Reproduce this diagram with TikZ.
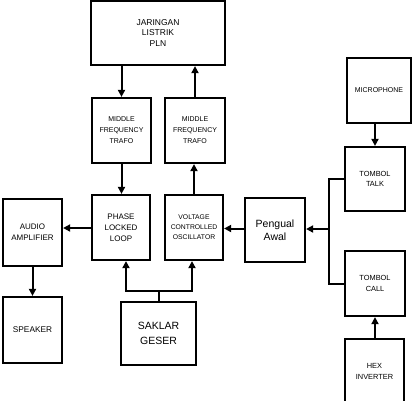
\documentclass[tikz,border=0pt]{standalone}
\usepackage{fontspec}
\setmainfont{Liberation Sans}
\usetikzlibrary{arrows.meta}
\begin{document}
\begin{tikzpicture}[x=1pt,y=-1pt,
  blk/.style={draw, line width=2.2pt, inner sep=0pt, align=center},
  conn/.style={line width=2pt},
  arr/.style={line width=2pt, -{Triangle[length=7pt,width=7pt]}},
  fs/.style 2 args={font=\fontsize{#1}{#2}\selectfont}
]
\clip (0,0) rectangle (412,400);
\fill[white] (0,0) rectangle (412,400);
\node[blk, minimum width=134, minimum height=64, fs={8.5}{10.5}] (jar) at (158,33) {JARINGAN\\LISTRIK\\PLN};
\node[blk, minimum width=59, minimum height=65, fs={7}{11}] (mfl) at (121.5,130.5) {MIDDLE\\FREQUENCY\\TRAFO};
\node[blk, minimum width=60, minimum height=65, fs={7}{11}] (mfr) at (195,130.5) {MIDDLE\\FREQUENCY\\TRAFO};
\node[blk, minimum width=58, minimum height=65, fs={8}{11}] (pll) at (121,227.5) {PHASE\\LOCKED\\LOOP};
\node[blk, minimum width=58, minimum height=65, fs={6.8}{10}] (vco) at (194,227.5) {VOLTAGE\\CONTROLLED\\OSCILLATOR};
\node[blk, minimum width=60, minimum height=64, fs={10.5}{13}] (pen) at (275,230) {Pengual\\Awal};
\node[blk, minimum width=59, minimum height=67, fs={8}{11}] (aud) at (32.5,232.5) {AUDIO\\AMPLIFIER};
\node[blk, minimum width=59, minimum height=66, fs={8.3}{10}] (spk) at (32.5,330) {SPEAKER};
\node[blk, minimum width=75, minimum height=63, fs={10.5}{15}] (sak) at (158.5,333.5) {SAKLAR\\GESER};
\node[blk, minimum width=64, minimum height=65, fs={7}{10}] (mic) at (379,90.5) {MICROPHONE};
\node[blk, minimum width=60, minimum height=64, fs={7.4}{10.5}] (talk) at (375,179) {TOMBOL\\TALK};
\node[blk, minimum width=60, minimum height=65, fs={7.4}{10.5}] (call) at (375,283.5) {TOMBOL\\CALL};
\node[blk, minimum width=59, minimum height=65, fs={7.4}{10.5}] (hex) at (374.5,371.5) {HEX\\INVERTER};
\coordinate (bus) at (329,0);
% vertical chain
\draw[arr] (jar.south -| mfl.north) -- (mfl.north);
\draw[arr] (mfr.north) -- (mfr.north |- jar.south);
\draw[arr] (mfl.south) -- (mfl.south |- pll.north);
\draw[arr] (vco.north) -- (vco.north |- mfr.south);
% horizontal chain
\draw[arr] ([yshift=-0.5pt]pll.west) -- ([yshift=-0.5pt]pll.west -| aud.east);
\draw[arr] ([yshift=1.5pt]pen.west) -- ([yshift=1.5pt]pen.west -| vco.east);
\draw[arr] (aud.south) -- (aud.south |- spk.north);
% right side
\draw[conn] (talk.west) -- (talk.west -| bus) -- (call.west -| bus) -- (call.west);
\draw[arr] ([yshift=1pt]pen.east -| bus) -- ([yshift=1pt]pen.east);
\draw[arr] (talk.north |- mic.south) -- (talk.north);
\draw[arr] (hex.north -| call.south) -- (call.south);
% saklar
\draw[conn] (sak.north) -- ++(0,-10) coordinate (j);
\draw[arr] (j) -| ([xshift=5pt]pll.south);
\draw[arr] (j) -| ([xshift=-2pt]vco.south);
\end{tikzpicture}
\end{document}
